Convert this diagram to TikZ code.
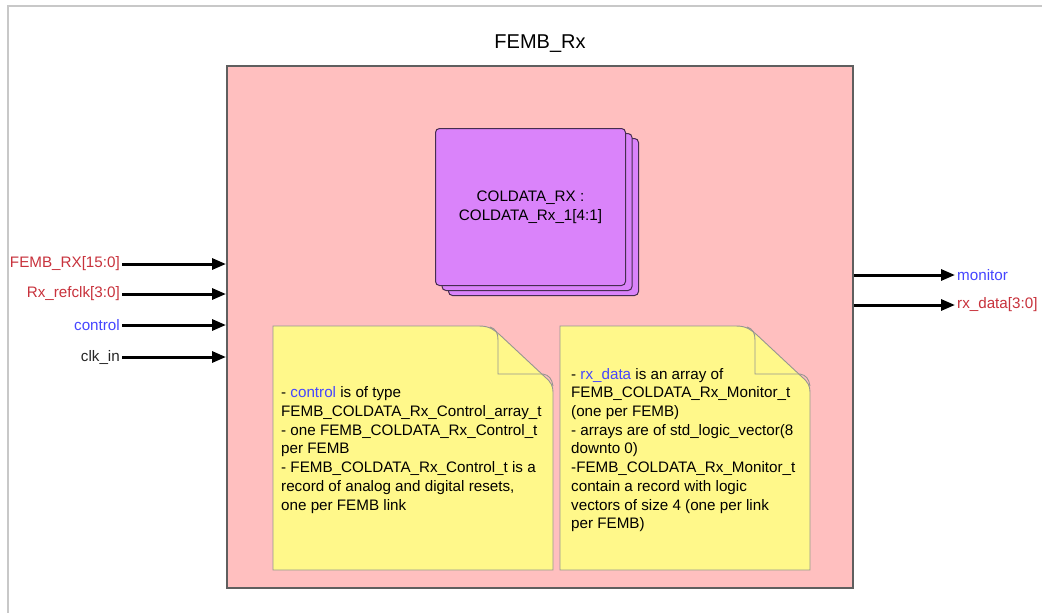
\documentclass[tikz,border=0pt]{standalone}
\usepackage{fontspec}
\setmainfont{Liberation Sans}
\usetikzlibrary{arrows.meta,calc}

\definecolor{blockpink}{RGB}{255,191,191}
\definecolor{blockedge}{RGB}{95,95,95}
\definecolor{instviolet}{RGB}{218,131,250}
\definecolor{instedge}{RGB}{70,45,80}
\definecolor{noteyellow}{RGB}{255,248,138}
\definecolor{noteedge}{RGB}{150,150,145}
\definecolor{portred}{RGB}{200,50,60}
\definecolor{portblue}{RGB}{70,70,255}
\definecolor{framegray}{RGB}{200,200,200}

% sticky note with a curled top-right corner: {left}{top}{right}{bottom}
\newcommand{\drawnote}[4]{%
  \draw[notepaper] (#1,#2) -- ({#3-74},#2)
    .. controls ({#3-63},#2) and ({#3-59},{#2+4}) .. ({#3-53},{#2+9})
    -- ({#3-8},{#2+51})
    .. controls ({#3-2},{#2+56}) and (#3,{#2+60}) .. (#3,{#2+66})
    -- (#3,#4) -- (#1,#4) -- cycle;
  \draw[notefold] ({#3-63},{#2+1})
    .. controls ({#3-57},{#2+3}) and ({#3-55},{#2+7}) .. ({#3-55},{#2+14})
    -- ({#3-55},{#2+48}) -- ({#3-10},{#2+48})
    .. controls ({#3-4},{#2+49}) and ({#3-1},{#2+53}) .. (#3,{#2+60});
}

\begin{document}
\begin{tikzpicture}[x=1pt,y=-1pt,
  txt/.style={font=\fontsize{15.2}{18.7}\selectfont},
  portlabel/.style={txt,inner sep=2pt},
  port/.style={line width=3pt,-{Triangle[length=14pt,width=11pt]}},
  instbox/.style={draw=instedge,fill=instviolet,line width=1pt,rounded corners=4pt,
    minimum width=190pt,minimum height=157pt,anchor=north west,inner sep=0pt},
  notepaper/.style={draw=noteedge,fill=noteyellow,line width=0.9pt},
  notefold/.style={draw=noteedge,line width=0.9pt},
  notetext/.style={txt,align=left,anchor=west,inner sep=0pt}]

\useasboundingbox (0,0) rectangle (1042,613);
\fill[white] (0,0) rectangle (1042,613);

% page frame
\draw[framegray,line width=1.2pt] (8,613) -- (8,6) -- (1042,6);

% FEMB_Rx entity
\node[draw=blockedge,fill=blockpink,line width=1.6pt,anchor=north west,
      minimum width=626pt,minimum height=522pt,inner sep=0pt] (femb) at (226,65) {};
\node[font=\fontsize{20}{24}\selectfont] (title) at (540,44) {FEMB\_Rx};

% COLDATA_Rx instances (stacked)
\node[instbox] (inst3) at (448,138) {};
\node[instbox] (inst2) at (441.5,133) {};
\node[instbox] (inst1) at (435,128) {};
\node[txt,align=center] (instname) at (inst1.center) {COLDATA\_RX :\\COLDATA\_Rx\_1[4:1]};

% input ports
\node[portlabel,text=portred,anchor=east] (pfembrx) at (122,264) {FEMB\_RX[15:0]};
\node[portlabel,text=portred,anchor=east] (prefclk) at (122,294) {Rx\_refclk[3:0]};
\node[portlabel,text=portblue,anchor=east] (pcontrol) at (122,325) {control};
\node[portlabel,text=black!85,anchor=east] (pclk) at (122,357) {clk\_in};
\foreach \p in {pfembrx,prefclk,pcontrol,pclk}
  \draw[port] (\p.east) -- (\p.east -| femb.west);

% output ports
\node[portlabel,text=portblue,anchor=west] (pmonitor) at (955,275) {monitor};
\node[portlabel,text=portred,anchor=west] (prxdata) at (955,305) {rx\_data[3:0]};
\foreach \p in {pmonitor,prxdata}
  \draw[port] (\p.west -| femb.east) -- (\p.west);

% notes
\drawnote{273}{326}{553}{570}
\drawnote{560}{326}{810}{570}

\node[notetext] (ctlnote) at (281,450) {%
- \textcolor{portblue}{control} is of type\\
FEMB\_COLDATA\_Rx\_Control\_array\_t\\
- one FEMB\_COLDATA\_Rx\_Control\_t\\
per FEMB\\
- FEMB\_COLDATA\_Rx\_Control\_t is a\\
record of analog and digital resets,\\
one per FEMB link};

\node[notetext] (rxnote) at (571,450) {%
- \textcolor{portblue}{rx\_data} is an array of\\
FEMB\_COLDATA\_Rx\_Monitor\_t\\
(one per FEMB)\\
- arrays are of std\_logic\_vector(8\\
downto 0)\\
-FEMB\_COLDATA\_Rx\_Monitor\_t\\
contain a record with logic\\
vectors of size 4 (one per link\\
per FEMB)};

\end{tikzpicture}
\end{document}
